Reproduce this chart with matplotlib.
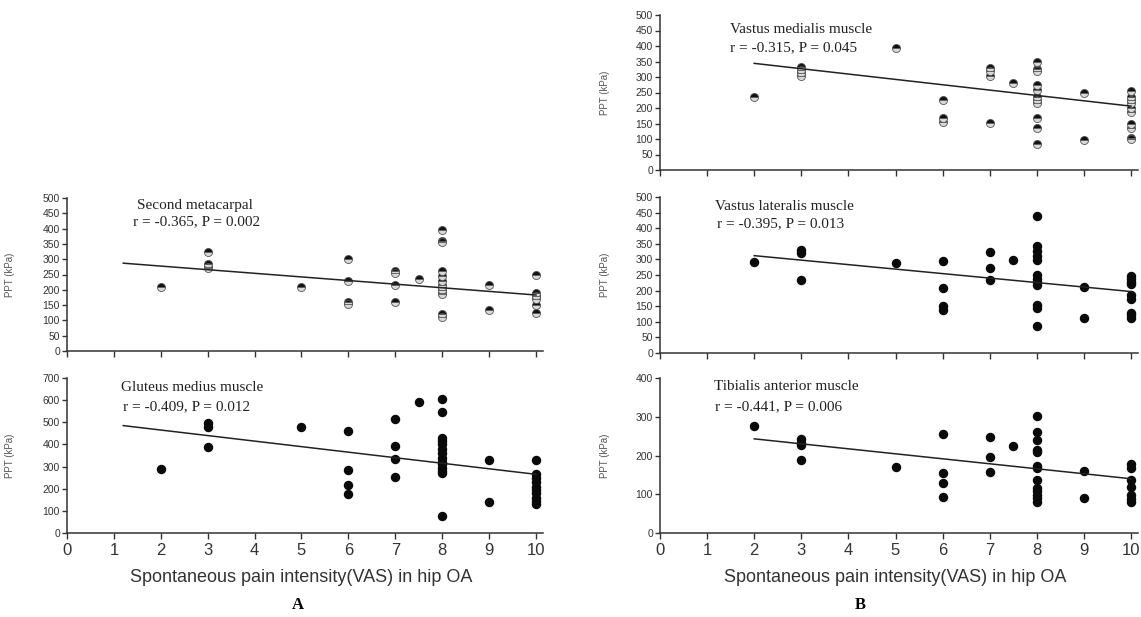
import numpy as np
import matplotlib.pyplot as plt

plt.rcParams['font.family'] = ['Liberation Sans', 'DejaVu Sans']

# VAS score (x) and PPT in kPa (y), one list pair per site
meta_x = [2, 3, 3, 3, 3, 5, 6, 6, 6, 6, 7, 7, 7, 7, 7.5,
          8, 8, 8, 8, 8, 8, 8, 8, 8, 8, 8, 8, 8, 9, 9, 10, 10, 10, 10, 10, 10]
meta_y = [210, 325, 285, 275, 270, 210, 300, 230, 160, 155, 260, 255, 215, 160, 235,
          395, 360, 355, 260, 245, 230, 215, 210, 200, 190, 185, 120, 110, 215, 135,
          250, 190, 180, 170, 150, 125]

glut_x = [2, 3, 3, 3, 5, 6, 6, 6, 6, 7, 7, 7, 7, 7.5,
          8, 8, 8, 8, 8, 8, 8, 8, 8, 8, 8, 8, 8, 8, 9, 9,
          10, 10, 10, 10, 10, 10, 10, 10, 10, 10]
glut_y = [290, 495, 480, 390, 480, 462, 285, 215, 175, 515, 392, 335, 255, 590,
          605, 545, 430, 415, 400, 380, 360, 340, 320, 310, 295, 280, 270, 75, 330, 140,
          330, 265, 250, 230, 210, 195, 180, 160, 145, 130]

vm_x = [2, 3, 3, 3, 3, 5, 6, 6, 6, 7, 7, 7, 7, 7.5,
        8, 8, 8, 8, 8, 8, 8, 8, 8, 8, 8, 9, 9,
        10, 10, 10, 10, 10, 10, 10, 10, 10, 10]
vm_y = [237, 333, 323, 312, 303, 393, 226, 167, 156, 330, 320, 303, 153, 280,
        350, 325, 319, 274, 258, 236, 226, 215, 167, 137, 84, 249, 97,
        255, 237, 226, 215, 199, 188, 150, 134, 104, 99]

vl_x = [2, 3, 3, 3, 5, 6, 6, 6, 6, 7, 7, 7, 7.5,
        8, 8, 8, 8, 8, 8, 8, 8, 8, 8, 8, 8, 9, 9,
        10, 10, 10, 10, 10, 10, 10, 10, 10]
vl_y = [292, 331, 320, 235, 288, 294, 209, 150, 139, 324, 273, 235, 297,
        438, 342, 326, 310, 299, 249, 238, 228, 217, 153, 145, 85, 212, 112,
        246, 236, 228, 220, 185, 174, 128, 121, 112]

ta_x = [2, 3, 3, 3, 3, 5, 6, 6, 6, 6, 7, 7, 7, 7.5,
        8, 8, 8, 8, 8, 8, 8, 8, 8, 8, 8, 8, 8, 9, 9,
        10, 10, 10, 10, 10, 10, 10]
ta_y = [275, 242, 231, 227, 188, 171, 256, 154, 130, 94, 249, 197, 158, 225,
        303, 260, 240, 214, 208, 173, 167, 138, 115, 108, 98, 91, 80, 161, 91,
        178, 167, 138, 119, 98, 89, 80]

# regression line end points (x, y)
meta_fit = ([1.2, 10], [287, 183])
glut_fit = ([1.2, 10], [485, 265])
vm_fit = ([2, 10], [344, 206])
vl_fit = ([2, 10], [312, 197])
ta_fit = ([2, 10], [243, 140])

xticks = list(range(0, 11))
xlabel = 'Spontaneous pain intensity(VAS) in hip OA'

W, H = 1141, 617
fig = plt.figure(figsize=(W / 100, H / 100), dpi=100)


def px_axes(x0, x10, y_top, y_zero):
    # axes from pixel positions of x=0, x=10, the top tick and the zero line
    unit = (x10 - x0) / 10
    right = x10 + 0.15 * unit
    return fig.add_axes([x0 / W, 1 - y_zero / H, (right - x0) / W, (y_zero - y_top) / H])


def draw_panel(ax, xs, ys, fit, ymax, ystep, name, stat, name_xy, stat_xy,
               show_xlabels=False, half=False, ylab_x=-0.105):
    if half:
        ax.plot(xs, ys, 'o', ms=5.8, mfc='#111', mfcalt='#d8d8d8', fillstyle='top',
                mec='#555', mew=0.6, ls='none')
    else:
        ax.plot(xs, ys, 'o', ms=5.8, color='#0a0a0a', ls='none')
    ax.plot(fit[0], fit[1], color='#222', lw=1.1)
    ax.set_xlim(0, 10.15)
    ax.set_ylim(0, ymax)
    ax.set_yticks(np.arange(0, ymax + 1, ystep))
    ax.set_xticks(xticks)
    for s in ['top', 'right']:
        ax.spines[s].set_visible(False)
    for s in ['left', 'bottom']:
        ax.spines[s].set_color('#333')
        ax.spines[s].set_linewidth(1.1)
    ax.tick_params(axis='y', length=3.5, width=1, colors='#333', labelsize=7.5, pad=1.5)
    ax.tick_params(axis='x', length=4, width=1, colors='#333', labelsize=12, pad=3)
    if not show_xlabels:
        ax.set_xticklabels([])
    ax.set_ylabel('PPT (kPa)', fontsize=7, color='#555')
    ax.yaxis.set_label_coords(ylab_x, 0.5)
    ax.text(name_xy[0], name_xy[1], name, family='Liberation Serif', fontsize=11,
            va='center', ha='left', color='#222')
    ax.text(stat_xy[0], stat_xy[1], stat, family='Liberation Serif', fontsize=11,
            va='center', ha='left', color='#222')


# A: left column
ax = px_axes(67, 536, 198, 351)
draw_panel(ax, meta_x, meta_y, meta_fit, 500, 50, 'Second metacarpal',
           'r = -0.365, P = 0.002', (1.49, 477), (1.41, 421), half=True, ylab_x=-0.11)
ax = px_axes(67, 536, 378, 533)
draw_panel(ax, glut_x, glut_y, glut_fit, 700, 100, 'Gluteus medius muscle',
           'r = -0.409, P = 0.012', (1.15, 655), (1.19, 569), show_xlabels=True, ylab_x=-0.11)

# B: right column
ax = px_axes(660, 1131, 15, 170)
draw_panel(ax, vm_x, vm_y, vm_fit, 500, 50, 'Vastus medialis muscle',
           'r = -0.315, P = 0.045', (1.49, 452), (1.49, 394), half=True)
ax = px_axes(660, 1131, 197, 353)
draw_panel(ax, vl_x, vl_y, vl_fit, 500, 50, 'Vastus lateralis muscle',
           'r = -0.395, P = 0.013', (1.17, 471), (1.21, 413))
ax = px_axes(660, 1131, 378, 533)
draw_panel(ax, ta_x, ta_y, ta_fit, 400, 100, 'Tibialis anterior muscle',
           'r = -0.441, P = 0.006', (1.15, 377), (1.17, 325), show_xlabels=True)

fig.text(301 / W, 1 - 577 / H, xlabel, ha='center', va='center', fontsize=13, color='#333')
fig.text(895 / W, 1 - 577 / H, xlabel, ha='center', va='center', fontsize=13, color='#333')
fig.text(298 / W, 1 - 605 / H, 'A', ha='center', va='center', fontsize=12,
         family='Liberation Serif', weight='bold')
fig.text(860 / W, 1 - 605 / H, 'B', ha='center', va='center', fontsize=12,
         family='Liberation Serif', weight='bold')

fig.savefig('out.png', dpi=100)
